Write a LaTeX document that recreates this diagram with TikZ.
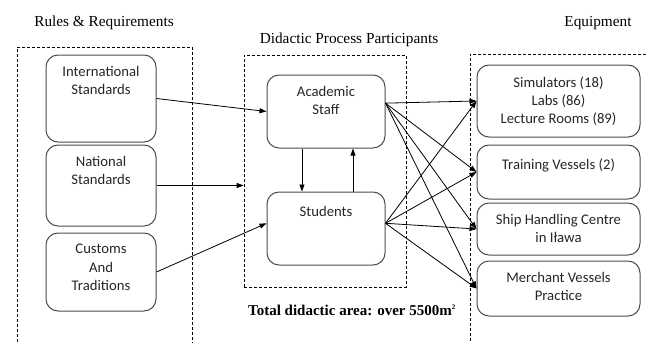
\documentclass[tikz,border=0pt]{standalone}
\usepackage{fontspec}
\setmainfont{Carlito}
\newfontfamily\serifttl{Liberation Serif}
\usetikzlibrary{arrows.meta}

\begin{document}
\begin{tikzpicture}[x=1pt,y=-1pt,
  box/.style={draw=black!70,rounded corners=12pt,line width=1pt,inner sep=0pt},
  txt/.style={anchor=north,align=center,inner sep=0pt,yshift=-11.6pt,
    text=black!85,font=\fontsize{14.7}{18.2}\selectfont,execute at begin node=\strut},
  frame/.style={draw,dash pattern=on 3pt off 2pt,line width=0.7pt,inner sep=0pt},
  ttl/.style={font=\serifttl\fontsize{15.3}{18}\selectfont},
  arr/.style={-{Triangle[length=7pt,width=5pt]},line width=0.8pt}]
  \useasboundingbox (0,0) rectangle (646,343);
  \node[frame,minimum width=175pt,minimum height=308pt] (left) at (104.5,201) {};
  \node[frame,minimum width=162pt,minimum height=232pt] (mid) at (325,171) {};
  \node[frame,minimum width=200pt,minimum height=301pt] (right) at (570,204.5) {};
  \node[ttl] (t1) at (104,23) {Rules \& Requirements};
  \node[ttl] (t2) at (349,40) {Didactic Process Participants};
  \node[ttl] (t3) at (598,23) {Equipment};
  \node[ttl,font=\serifttl\bfseries\fontsize{15}{18}\selectfont] (area) at (352,310) {Total didactic area: over 5500m\textsuperscript{\scriptsize 2}};
  \node[box,minimum width=110pt,minimum height=87pt,label={[txt]north:International\\Standards}] (r1) at (101,98.5) {};
  \node[box,minimum width=110pt,minimum height=81pt,label={[txt]north:National\\Standards}] (r2) at (101,185.5) {};
  \node[box,minimum width=110pt,minimum height=78pt,label={[txt]north:Customs\\And\\Traditions}] (r3) at (101,272) {};
  \node[box,minimum width=118pt,minimum height=73pt,label={[txt]north:Academic\\Staff}] (p1) at (326,111.5) {};
  \node[box,minimum width=118pt,minimum height=73pt,label={[txt]north:Students}] (p2) at (326,228.5) {};
  \node[box,minimum width=163pt,minimum height=72pt,label={[txt]north:Simulators (18)\\Labs (86)\\Lecture Rooms (89)}] (e1) at (558.5,101) {};
  \node[box,minimum width=163pt,minimum height=54pt,label={[txt]north:Training Vessels (2)}] (e2) at (558.5,172) {};
  \node[box,minimum width=163pt,minimum height=52pt,label={[txt]north:Ship Handling Centre\\in Iława}] (e3) at (558.5,229) {};
  \node[box,minimum width=163pt,minimum height=55pt,label={[txt]north:Merchant Vessels\\Practice}] (e4) at (558.5,288.5) {};
  \draw[arr] (r1.east) -- (p1.west);
  \draw[arr] (r2.east) -- (r2.east -| mid.west);
  \draw[arr] (r3.east) -- (p2.175);
  \draw[arr] ([xshift=-24pt]p1.south) -- ([xshift=-24pt]p2.north);
  \draw[arr] ([xshift=27pt]p2.north) -- ([xshift=27pt]p1.south);
  \draw[arr] (p1.8) -- (e1.west);
  \draw[arr] (p1.8) -- (e2.west);
  \draw[arr] (p1.8) -- (e3.west);
  \draw[arr] (p1.8) -- (e4.west);
  \draw[arr] (p2.5) -- (e1.west);
  \draw[arr] (p2.5) -- (e2.west);
  \draw[arr] (p2.5) -- (e3.west);
  \draw[arr] (p2.5) -- (e4.west);
\end{tikzpicture}
\end{document}
